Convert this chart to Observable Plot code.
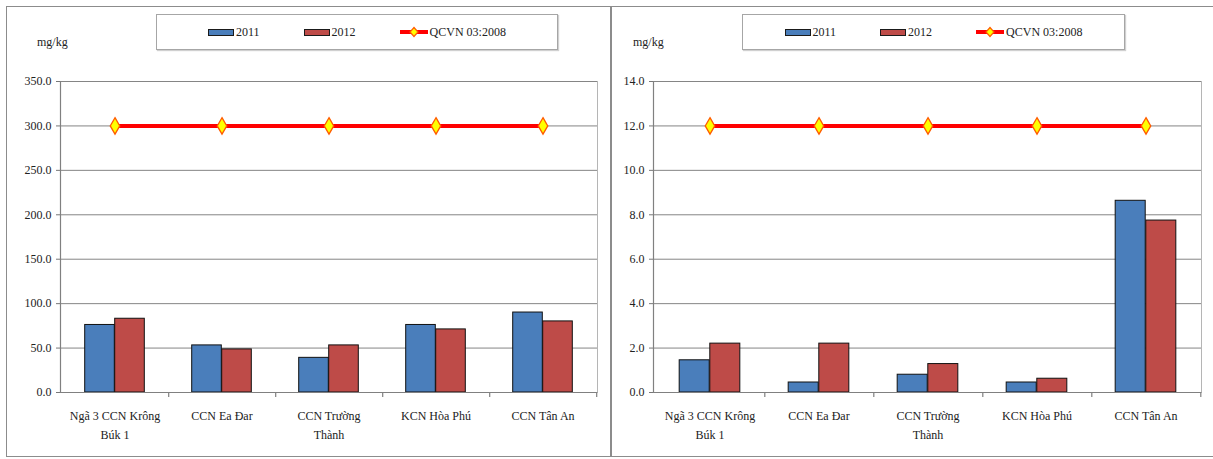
<!DOCTYPE html>
<html>
<head>
<meta charset="utf-8">
<script src="https://cdn.jsdelivr.net/npm/d3@7"></script>
<script src="https://cdn.jsdelivr.net/npm/@observablehq/plot@0.6"></script>
<style>
  body { margin: 0; background: #fff; font-family: "Liberation Serif", "Tinos", "Times New Roman", "DejaVu Serif", serif; }
  #wrap { position: relative; width: 1213px; height: 459px; overflow: hidden; background: #fff; }
  .outer { position: absolute; left: 6px; top: 6px; width: 1230px; height: 451px; border: 1.5px solid #8c8c8c; box-sizing: border-box; }
  .divider { position: absolute; left: 610px; top: 6px; width: 2px; height: 451px; background: #8c8c8c; }
  .unit { position: absolute; top: 35px; font-size: 12px; color: #222; }
  .legend { position: absolute; top: 14px; height: 36px; border: 1.5px solid #a6a6a6; box-shadow: 1px 1px 1px #d0d0d0;
            box-sizing: border-box; display: flex; align-items: center; justify-content: center; gap: 44px;
            font-size: 12px; color: #222; }
  .item { display: flex; align-items: center; gap: 2px; }
  .swatch { width: 26px; height: 7px; border: 1px solid #1a1a1a; box-sizing: border-box; }
  .chart { position: absolute; top: 60px; }
  .chart text { font-family: "Liberation Serif", "Tinos", "Times New Roman", "DejaVu Serif", serif; }
</style>
</head>
<body>
<div id="wrap">
  <div class="outer"></div>
  <div class="divider"></div>
</div>
<script>
// Sampling sites (x categories); "\n" marks where the label wraps
const sites = ["Ngã 3 CCN Krông\nBúk 1", "CCN Ea Đar", "CCN Trường\nThành", "KCN Hòa Phú", "CCN Tân An"];
const years = ["2011", "2012"];

// Left panel values (mg/kg)
const leftY2011 = [76, 53, 39, 76, 90];
const leftY2012 = [83, 48.5, 53, 71, 80];
const leftLimit = [300, 300, 300, 300, 300];
const leftTicks = [0, 50, 100, 150, 200, 250, 300, 350];

// Right panel values (mg/kg)
const rightY2011 = [1.45, 0.45, 0.8, 0.45, 8.63];
const rightY2012 = [2.2, 2.2, 1.28, 0.62, 7.74];
const rightLimit = [12, 12, 12, 12, 12];
const rightTicks = [0, 2, 4, 6, 8, 10, 12, 14];

const limitName = "QCVN 03:2008";
const colors = {"2011": "#4a7ebb", "2012": "#be4b48"};
const serif = '"Liberation Serif", "Tinos", "Times New Roman", "DejaVu Serif", serif';

const wrap = document.getElementById("wrap");

function legend(left, width) {
  const box = document.createElement("div");
  box.className = "legend";
  box.style.left = left + "px";
  box.style.width = width + "px";
  for (const y of years) {
    const it = document.createElement("div");
    it.className = "item";
    it.innerHTML = `<span class="swatch" style="background:${colors[y]}"></span><span>${y}</span>`;
    box.appendChild(it);
  }
  const it = document.createElement("div");
  it.className = "item";
  it.innerHTML = `<svg width="28" height="12"><line x1="0" x2="28" y1="6" y2="6" stroke="#ff0000" stroke-width="4"/>` +
    `<path d="M14,1.5L18,6L14,10.5L10,6Z" fill="#ffff00" stroke="#ff5a00" stroke-width="1.2"/></svg><span>${limitName}</span>`;
  box.appendChild(it);
  wrap.appendChild(box);
}

function unit(left) {
  const u = document.createElement("div");
  u.className = "unit";
  u.style.left = left + "px";
  u.textContent = "mg/kg";
  wrap.appendChild(u);
}

function panel({left, width, marginLeft, v2011, v2012, limit, ticks}) {
  const marginRight = 10, height = 395, marginTop = 21, marginBottom = 63;
  const band = (width - marginLeft - marginRight) / sites.length;
  const barW = band / 3.58; // grouped bars with a 158% gap
  const rows = sites.map((s, i) => ({site: s, v2011: v2011[i], v2012: v2012[i], limit: limit[i]}));
  const fmt = d => d.toFixed(1);
  const chart = Plot.plot({
    width, height, marginLeft, marginRight, marginTop, marginBottom,
    style: {fontFamily: serif, fontSize: "12px", color: "#222", background: "transparent"},
    x: {type: "band", domain: sites, paddingInner: 0, paddingOuter: 0, axis: null, label: null},
    y: {domain: [0, ticks[ticks.length - 1]], axis: null, label: null},
    marks: [
      Plot.frame({stroke: "#b5b5b5", strokeWidth: 1}),
      Plot.gridY(ticks, {stroke: "#858585", strokeOpacity: 1, strokeWidth: 1}),
      Plot.axisY(ticks, {tickFormat: fmt, tickSize: 4, tickPadding: 5, stroke: "#777", fontSize: 12, label: null}),
      Plot.axisX({tickSize: 0, tickPadding: 13, lineHeight: 1.65, fontSize: 12, textAnchor: "middle", label: null}),
      Plot.barY(rows, {x: "site", y: "v2011", fill: colors["2011"], stroke: "#111", strokeWidth: 1,
        insetLeft: band / 2 - barW, insetRight: band / 2}),
      Plot.barY(rows, {x: "site", y: "v2012", fill: colors["2012"], stroke: "#111", strokeWidth: 1,
        insetLeft: band / 2, insetRight: band / 2 - barW}),
      Plot.frame({anchor: "left", stroke: "#808080", strokeWidth: 1.2}),
      Plot.ruleY([0], {stroke: "#808080", strokeWidth: 1.2}),
      Plot.ruleX(sites, {x: d => d, dx: band / 2, y1: 0, y2: 0, insetBottom: -5, stroke: "#808080", strokeWidth: 1.2}),
      Plot.lineY(rows, {x: "site", y: "limit", stroke: "#ff0000", strokeWidth: 4}),
      Plot.dot(rows, {x: "site", y: "limit", symbol: "diamond", r: 5, fill: "#ffff00", stroke: "#ff5a00", strokeWidth: 1.3})
    ]
  });
  chart.classList.add("chart");
  chart.style.left = left + "px";
  wrap.appendChild(chart);
}

unit(37);
legend(156, 402);
panel({left: 7, width: 600, marginLeft: 53, v2011: leftY2011, v2012: leftY2012, limit: leftLimit, ticks: leftTicks});

unit(633);
legend(742, 383);
panel({left: 613, width: 598, marginLeft: 40, v2011: rightY2011, v2012: rightY2012, limit: rightLimit, ticks: rightTicks});
</script>
</body>
</html>
